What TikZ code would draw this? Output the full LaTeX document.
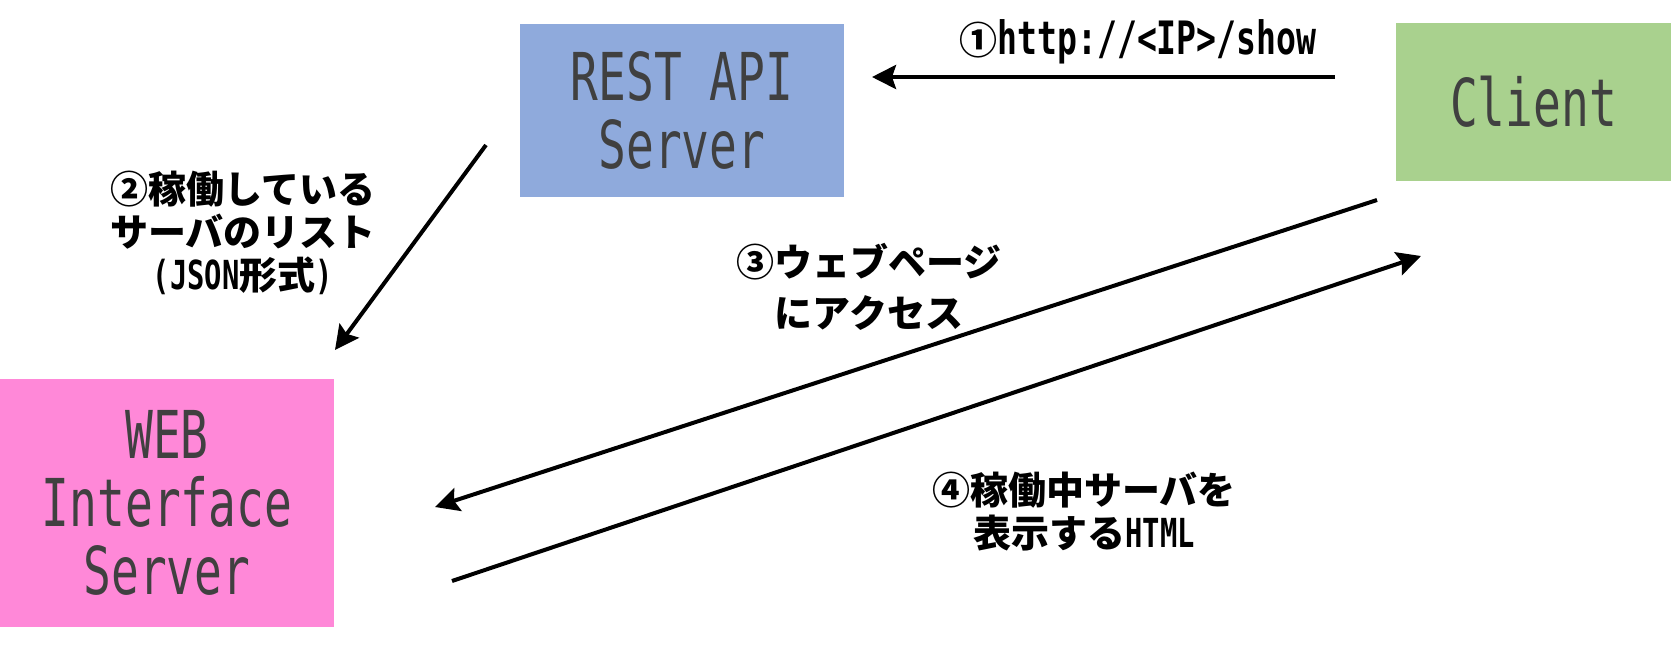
\documentclass[tikz,border=0pt]{standalone}
\usepackage{fontspec}
\usepackage{tikz}
\newfontfamily\jpfont{Noto Sans CJK JP}
\newfontfamily\boxfont{DejaVu Sans Mono}[FakeStretch=0.70]
\newfontfamily\latfont{DejaVu Sans Mono}[FakeStretch=0.72]
\definecolor{restblue}{RGB}{143, 170, 220}
\definecolor{clientgreen}{RGB}{169, 209, 142}
\definecolor{webpink}{RGB}{255, 136, 216}
\definecolor{boxgray}{RGB}{64, 64, 64}
\newcommand{\lat}[1]{{\latfont\bfseries\fontsize{20}{21.5}\selectfont #1}}
\usetikzlibrary{arrows.meta,positioning}

\begin{document}
\begin{tikzpicture}[x=0.5pt, y=-0.5pt]
    % Define styles
    \tikzstyle{server} = [rectangle, inner sep=0pt, text=boxgray, align=center,
                          font=\boxfont\fontsize{33}{34}\selectfont]
    \tikzstyle{note} = [align=center, inner sep=0pt, font=\jpfont\bfseries\fontsize{19}{21.5}\selectfont]
    \tikzstyle{flow} = [-{Stealth[length=12pt, width=12pt, inset=2pt]}, line width=2pt]

    \useasboundingbox (0,0) rectangle (1671,644);

    % Nodes
    \node[server, fill=restblue, minimum width=162pt, minimum height=86.5pt] (rest) at (682,110) {REST API\\Server};
    \node[server, fill=clientgreen, minimum width=137.5pt, minimum height=79pt] (client) at (1533.5,102) {Client};
    \node[server, fill=webpink, minimum width=167pt, minimum height=124pt] (web) at (167,503) {WEB\\Interface\\Server};

    % Arrow ends
    \coordinate (getS) at (1335,77);
    \coordinate (getE) at (872,77);
    \coordinate (listS) at (486,145);
    \coordinate (listE) at (335,350);
    \coordinate (accS) at (1377,200);
    \coordinate (accE) at (435,507);
    \coordinate (htmlS) at (452,581);
    \coordinate (htmlE) at (1421,256);

    % Connections
    \draw[flow] (getS) -- (getE);
    \draw[flow] (listS) -- (listE);
    \draw[flow] (accS) -- (accE);
    \draw[flow] (htmlS) -- (htmlE);

    % Labels
    \node[note, font=\latfont\bfseries\fontsize{23}{21.5}\selectfont] (getlbl) at (1138,42) {{\jpfont\fontsize{19}{21.5}\selectfont ①}http://<IP>/show};
    \node[note] (listlbl) at (243,233) {②稼働している\\サーバのリスト\\\lat{(JSON}形式\lat{)}};
    \node[note, font=\jpfont\bfseries\fontsize{19}{25.5}\selectfont] (acclbl) at (869,287) {③ウェブページ\\にアクセス};
    \node[note] (htmllbl) at (1084,512) {④稼働中サーバを\\表示する\lat{HTML}};
\end{tikzpicture}
\end{document}
